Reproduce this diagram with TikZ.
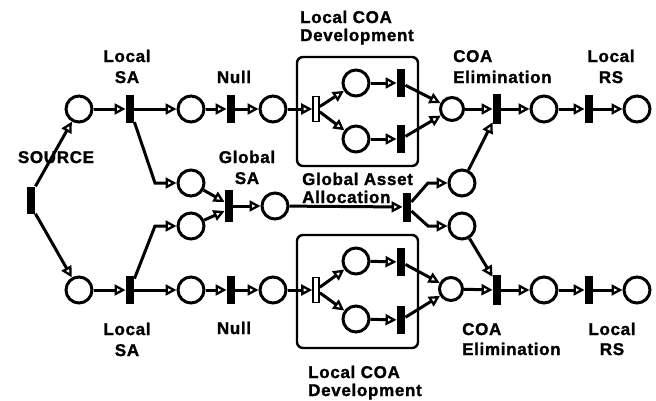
\documentclass[tikz,border=0pt]{standalone}
\usepackage{fontspec}
\newfontfamily\lblfam{Liberation Sans Bold}[LetterSpace=4, FakeBold=1.4]
\usetikzlibrary{arrows.meta}
\begin{document}
\begin{tikzpicture}[x=1pt,y=-1pt,
  place/.style={circle, draw, line width=3pt, minimum size=26pt, inner sep=0pt, fill=white},
  small place/.style={place, minimum size=23pt},
  trans/.style={rectangle, fill=black, minimum width=8.5pt, minimum height=28pt, inner sep=0pt},
  otrans/.style={rectangle, draw, fill=white, line width=1.6pt, minimum width=6pt, minimum height=25pt, inner sep=0pt},
  arc/.style={line width=3pt, -{Triangle[open, length=11pt, width=11pt, line width=2.3pt]}},
  subnet/.style={draw, line width=2.4pt, rounded corners=6pt},
  lbl/.style={font=\lblfam\fontsize{17}{20}\selectfont, inner sep=0pt},
]
\useasboundingbox (0,0) rectangle (656,400);

% sub-net frames
\draw[subnet] (297,57) rectangle (418,166);
\draw[subnet] (297,235) rectangle (418,348);

% source
\node[trans, minimum height=27pt] (src) at (31,200) {};

% upper lane
\node[place] (pa1) at (79,109) {};
\node[trans] (ta1) at (130,109) {};
\node[place] (pa2) at (191,109) {};
\node[trans] (ta2) at (231,109) {};
\node[place] (pa3) at (273,109) {};
\node[otrans] (ta3) at (316,109) {};
\node[place] (pa4) at (356,83) {};
\node[place] (pa5) at (356,139) {};
\node[trans] (ta4) at (401,83) {};
\node[trans] (ta5) at (401,139) {};
\node[small place] (pa6) at (452,109) {};
\node[trans, minimum height=30pt] (ta6) at (497,109) {};
\node[place] (pa7) at (544,109) {};
\node[trans] (ta7) at (589,109) {};
\node[place] (pa8) at (637,109) {};

% lower lane
\node[place] (pb1) at (79,290) {};
\node[trans] (tb1) at (130,290) {};
\node[place] (pb2) at (191,290) {};
\node[trans] (tb2) at (231,290) {};
\node[place] (pb3) at (273,290) {};
\node[otrans] (tb3) at (316,290) {};
\node[place] (pb4) at (356,261) {};
\node[place] (pb5) at (356,319) {};
\node[trans] (tb4) at (401,262) {};
\node[trans] (tb5) at (401,320) {};
\node[small place] (pb6) at (451,289) {};
\node[trans, minimum height=30pt] (tb6) at (497,290) {};
\node[place] (pb7) at (544,290) {};
\node[trans] (tb7) at (589,290) {};
\node[place] (pb8) at (637,290) {};

% global part
\node[place] (gm1) at (191,183) {};
\node[place] (gm2) at (191,226) {};
\node[trans, minimum height=32pt] (gt1) at (229,206) {};
\node[place] (gm3) at (275,206) {};
\node[trans, minimum height=29pt] (gt2) at (407,207) {};
\node[place] (gm4) at (462,183) {};
\node[place] (gm5) at (462,226) {};

% bend points
\coordinate (k1) at (155,183);
\coordinate (k2) at (155,226);
\coordinate (k3) at (428,183);
\coordinate (k4) at (428,226);

% source arcs
\draw[arc] (src.north east) -- (pa1);
\draw[arc] (src.south east) -- (pb1);

% upper lane arcs
\draw[arc] (pa1) -- (ta1);
\draw[arc] (ta1) -- (pa2);
\draw[arc] (pa2) -- (ta2);
\draw[arc] (ta2) -- (pa3);
\draw[arc] (pa3) -- (ta3);
\draw[arc] (ta3) -- (pa4);
\draw[arc] (ta3) -- (pa5);
\draw[arc] (pa4) -- (ta4);
\draw[arc] (pa5) -- (ta5);
\draw[arc] (ta4) -- (pa6);
\draw[arc] (ta5) -- (pa6);
\draw[arc] (pa6) -- (ta6);
\draw[arc] (ta6) -- (pa7);
\draw[arc] (pa7) -- (ta7);
\draw[arc] (ta7) -- (pa8);

% lower lane arcs
\draw[arc] (pb1) -- (tb1);
\draw[arc] (tb1) -- (pb2);
\draw[arc] (pb2) -- (tb2);
\draw[arc] (tb2) -- (pb3);
\draw[arc] (pb3) -- (tb3);
\draw[arc] (tb3) -- (pb4);
\draw[arc] (tb3) -- (pb5);
\draw[arc] (pb4) -- (tb4);
\draw[arc] (pb5) -- (tb5);
\draw[arc] (tb4) -- (pb6);
\draw[arc] (tb5) -- (pb6);
\draw[arc] (pb6) -- (tb6);
\draw[arc] (tb6) -- (pb7);
\draw[arc] (pb7) -- (tb7);
\draw[arc] (tb7) -- (pb8);

% global arcs
\draw[arc] (ta1) -- (k1) -- (gm1);
\draw[arc] (tb1) -- (k2) -- (gm2);
\draw[arc] (gm1) -- ([yshift=4pt]gt1.west);
\draw[arc] (gm2) -- ([yshift=-5pt]gt1.west);
\draw[arc] (gt1) -- (gm3);
\draw[arc] (gm3) -- (gt2);
\draw[arc] (gt2) -- (k3) -- (gm4);
\draw[arc] (gt2) -- (k4) -- (gm5);
\draw[arc] (gm4) -- ([yshift=2pt]ta6.south west);
\draw[arc] (gm5) -- ([yshift=-2pt]tb6.north west);

% labels, upper
\node[lbl, anchor=base] (l1) at (127,62) {Local};
\node[lbl, anchor=base] (l2) at (127,83) {SA};
\node[lbl, anchor=base] (l3) at (234,83) {Null};
\node[lbl, anchor=base west] (l4) at (300,23) {Local COA};
\node[lbl, anchor=base west] (l5) at (300,41) {Development};
\node[lbl, anchor=base west] (l6) at (453,62) {COA};
\node[lbl, anchor=base west] (l7) at (453,83) {Elimination};
\node[lbl, anchor=base] (l8) at (611,62) {Local};
\node[lbl, anchor=base] (l9) at (611,83) {RS};

% labels, middle
\node[lbl, anchor=base] (m1) at (56,163) {SOURCE};
\node[lbl, anchor=base] (m2) at (247,163) {Global};
\node[lbl, anchor=base] (m3) at (247,184) {SA};
\node[lbl, anchor=base west] (m4) at (302,185) {Global Asset};
\node[lbl, anchor=base west] (m5) at (302,203) {Allocation};

% labels, lower
\node[lbl, anchor=base] (n1) at (127,335) {Local};
\node[lbl, anchor=base] (n2) at (127,356) {SA};
\node[lbl, anchor=base] (n3) at (234,334) {Null};
\node[lbl, anchor=base west] (n4) at (308,378) {Local COA};
\node[lbl, anchor=base west] (n5) at (308,396) {Development};
\node[lbl, anchor=base west] (n6) at (462,335) {COA};
\node[lbl, anchor=base west] (n7) at (462,355) {Elimination};
\node[lbl, anchor=base] (n8) at (612,335) {Local};
\node[lbl, anchor=base] (n9) at (612,355) {RS};
\end{tikzpicture}
\end{document}
